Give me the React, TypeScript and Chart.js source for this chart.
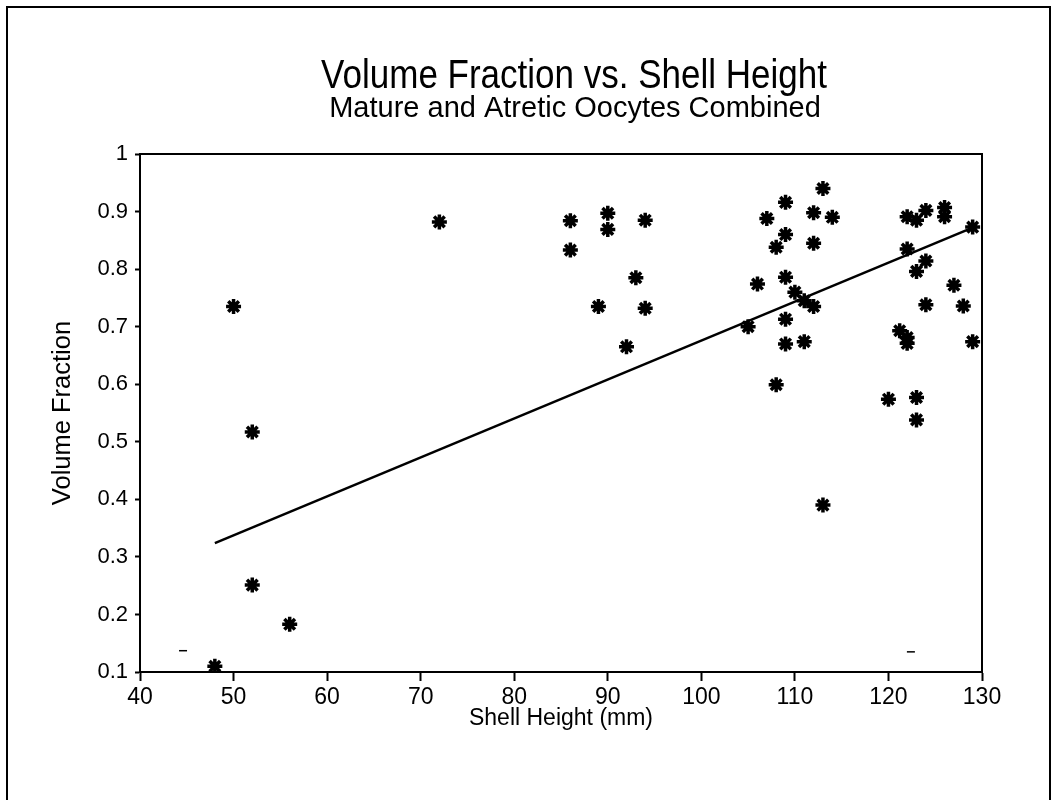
import React, { useEffect, useRef } from "react";
import { Chart, registerables } from "chart.js";

Chart.register(...registerables);

const shellHeight = [
  48, 50, 52, 52, 56, 72, 86, 86, 89, 90, 90, 92, 93, 94, 94,
  105, 106, 107, 108, 108, 109, 109, 109, 109, 109, 110, 111, 111,
  112, 112, 112, 113, 113, 114, 120, 121.2, 122, 122, 122, 122,
  123, 123, 123, 123, 124, 124, 124, 126, 126, 127, 128, 129, 129,
];
const volumeFraction = [
  0.11, 0.735, 0.517, 0.251, 0.183, 0.882, 0.884, 0.833, 0.735, 0.897, 0.869, 0.665, 0.785, 0.885, 0.732,
  0.7, 0.774, 0.888, 0.838, 0.599, 0.916, 0.86, 0.786, 0.713, 0.67, 0.76, 0.745, 0.674,
  0.898, 0.845, 0.735, 0.94, 0.39, 0.89, 0.574, 0.693, 0.891, 0.835, 0.681, 0.671,
  0.885, 0.796, 0.577, 0.538, 0.902, 0.814, 0.738, 0.907, 0.891, 0.772, 0.736, 0.873, 0.674,
];
const fitX = [48, 129];
const fitY = [0.324, 0.872];
const markX = [44.6, 122.4];
const markY = [0.137, 0.135];

const titleText = "Volume Fraction vs. Shell Height";
const subtitleText = "Mature and Atretic Oocytes Combined";
const xTitle = "Shell Height (mm)";
const yTitle = "Volume Fraction";

const FONT = "'Liberation Sans', Arial, Helvetica, sans-serif";

const framePlugin = {
  id: "frameAndTitles",
  beforeDraw(chart: any) {
    const ctx = chart.ctx;
    ctx.save();
    ctx.fillStyle = "#ffffff";
    ctx.fillRect(0, 0, chart.width, chart.height);
    ctx.strokeStyle = "#000";
    ctx.lineWidth = 2;
    ctx.beginPath();
    ctx.moveTo(7, 800);
    ctx.lineTo(7, 7);
    ctx.lineTo(1050, 7);
    ctx.lineTo(1050, 800);
    ctx.stroke();
    ctx.fillStyle = "#000";
    ctx.textAlign = "center";
    ctx.textBaseline = "alphabetic";
    ctx.save();
    ctx.translate(574, 88);
    ctx.scale(0.875, 1);
    ctx.font = `40px ${FONT}`;
    ctx.fillText(titleText, 0, 0);
    ctx.restore();
    ctx.font = `29px ${FONT}`;
    ctx.fillText(subtitleText, 575, 117);
    ctx.restore();
  },
  afterDraw(chart: any) {
    const { left, right, top, bottom } = chart.chartArea;
    const ctx = chart.ctx;
    ctx.save();
    ctx.strokeStyle = "#000";
    ctx.lineWidth = 2;
    ctx.strokeRect(left, top, right - left, bottom - top);
    ctx.restore();
  },
};

export default function App() {
  const ref = useRef<HTMLCanvasElement | null>(null);
  useEffect(() => {
    if (!ref.current) return;
    const chart = new Chart(ref.current, {
      type: "scatter",
      data: {
        datasets: [
          {
            type: "line",
            data: fitX.map((x, i) => ({ x, y: fitY[i] })),
            borderColor: "#000",
            borderWidth: 2.5,
            pointRadius: 0,
            fill: false,
          } as any,
          {
            data: shellHeight.map((x, i) => ({ x, y: volumeFraction[i] })),
            pointStyle: "star",
            pointRadius: 7.5,
            borderColor: "#000",
            backgroundColor: "#000",
            borderWidth: 3.5,
          },
          {
            data: markX.map((x, i) => ({ x, y: markY[i] })),
            pointStyle: "line",
            pointRadius: 4,
            borderColor: "#000",
            borderWidth: 1.5,
          },
        ],
      },
      options: {
        animation: false,
        responsive: false,
        events: [],
        layout: { padding: { left: 48, top: 154, right: 70, bottom: 68 } },
        plugins: { legend: { display: false }, tooltip: { enabled: false } },
        scales: {
          x: {
            type: "linear",
            min: 40,
            max: 130,
            afterFit: (s: any) => { s.height = 60; },
            ticks: { stepSize: 10, color: "#000", padding: 3, font: { family: FONT, size: 23 } },
            grid: { display: true, drawOnChartArea: false, drawTicks: true, tickLength: 9, color: "#000", tickWidth: 2 },
            border: { display: true, color: "#000", width: 2 },
            title: { display: true, text: xTitle, color: "#000", padding: 0, font: { family: FONT, size: 23 } },
          },
          y: {
            type: "linear",
            min: 0.1,
            max: 1,
            afterFit: (s: any) => { s.width = 92; },
            ticks: {
              stepSize: 0.1,
              color: "#000",
              padding: 7,
              font: { family: FONT, size: 22 },
              callback: (v: any) => String(Math.round(Number(v) * 10) / 10),
            },
            grid: { display: true, drawOnChartArea: false, drawTicks: true, tickLength: 5, color: "#000", tickWidth: 2 },
            border: { display: true, color: "#000", width: 2 },
            title: { display: true, text: yTitle, color: "#000", padding: 0, font: { family: FONT, size: 25.5 } },
          },
        },
      },
      plugins: [framePlugin],
    });
    return () => chart.destroy();
  }, []);
  return (
    <div style={{ position: "absolute", left: 0, top: 0, width: 1052, height: 800, background: "#fff" }}>
      <canvas ref={ref} width={1052} height={800} style={{ width: 1052, height: 800 }} />
    </div>
  );
}
